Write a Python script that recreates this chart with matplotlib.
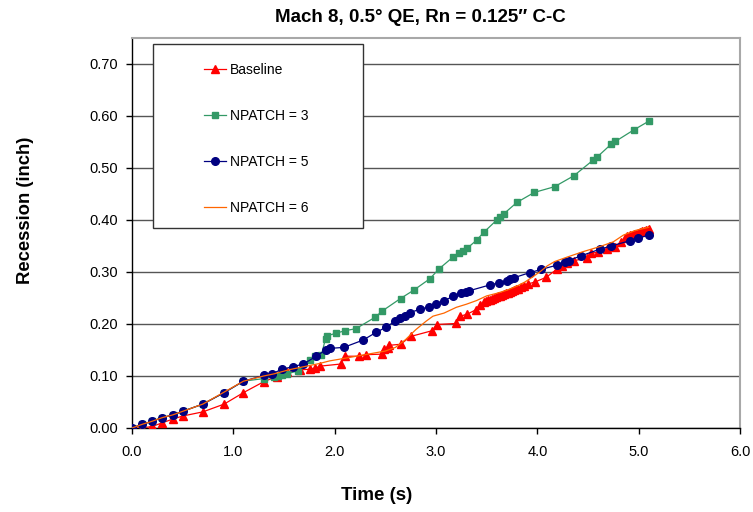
import matplotlib
matplotlib.use("Agg")
import matplotlib.pyplot as plt
from matplotlib.patches import Rectangle
from matplotlib.ticker import FormatStrFormatter, MultipleLocator

plt.rcParams['font.family'] = ['Liberation Sans', 'DejaVu Sans']

# Baseline (red triangles)
base_t = [0.0, 0.1, 0.2, 0.3, 0.4, 0.5, 0.7, 0.91, 1.1, 1.3, 1.43, 1.53, 1.66, 1.76,
          1.81, 1.86, 2.06, 2.10, 2.24, 2.31, 2.47, 2.49, 2.53, 2.54, 2.65, 2.75, 2.96,
          3.01, 3.20, 3.24, 3.31, 3.39, 3.43, 3.47, 3.49, 3.51, 3.53, 3.55, 3.57, 3.59,
          3.61, 3.63, 3.65, 3.67, 3.69, 3.71, 3.73, 3.75, 3.77, 3.79, 3.81, 3.84, 3.87,
          3.91, 3.98, 4.09, 4.19, 4.24, 4.29, 4.36, 4.49, 4.53, 4.60, 4.69, 4.77, 4.83,
          4.87, 4.89, 4.91, 4.93, 4.95, 4.97, 4.99, 5.01, 5.03, 5.05, 5.07, 5.09, 5.10]
base_r = [0.0, 0.0, 0.003, 0.010, 0.017, 0.023, 0.031, 0.046, 0.068, 0.089, 0.099, 0.108,
          0.112, 0.113, 0.115, 0.119, 0.123, 0.138, 0.138, 0.141, 0.142, 0.152, 0.153,
          0.159, 0.161, 0.176, 0.187, 0.199, 0.201, 0.215, 0.219, 0.227, 0.236, 0.242,
          0.244, 0.246, 0.247, 0.248, 0.250, 0.251, 0.253, 0.254, 0.256, 0.257, 0.259,
          0.260, 0.262, 0.263, 0.265, 0.267, 0.268, 0.271, 0.274, 0.277, 0.281, 0.290,
          0.305, 0.312, 0.317, 0.322, 0.326, 0.336, 0.338, 0.344, 0.349, 0.358, 0.366,
          0.369, 0.371, 0.372, 0.373, 0.374, 0.375, 0.376, 0.378, 0.379, 0.380, 0.381,
          0.382]

# NPATCH = 3 (green squares)
np3_t = [0.0, 0.1, 0.2, 0.3, 0.4, 0.5, 0.7, 0.91, 1.1, 1.30, 1.40, 1.44, 1.48, 1.53,
         1.64, 1.76, 1.81, 1.87, 1.91, 1.92, 2.01, 2.10, 2.21, 2.40, 2.47, 2.65, 2.78,
         2.94, 3.03, 3.17, 3.23, 3.27, 3.31, 3.40, 3.47, 3.60, 3.63, 3.67, 3.80, 3.97,
         4.17, 4.36, 4.55, 4.59, 4.73, 4.77, 4.95, 5.10]
np3_r = [0.0, 0.007, 0.013, 0.020, 0.025, 0.032, 0.046, 0.068, 0.090, 0.095, 0.098,
         0.100, 0.101, 0.104, 0.110, 0.131, 0.138, 0.141, 0.172, 0.177, 0.182, 0.187,
         0.191, 0.213, 0.225, 0.249, 0.265, 0.287, 0.306, 0.329, 0.336, 0.340, 0.346,
         0.361, 0.376, 0.400, 0.406, 0.412, 0.434, 0.453, 0.464, 0.485, 0.515, 0.521,
         0.546, 0.551, 0.573, 0.590]

# NPATCH = 5 (navy circles)
np5_t = [0.0, 0.1, 0.2, 0.3, 0.4, 0.5, 0.7, 0.91, 1.1, 1.30, 1.38, 1.48, 1.59, 1.69,
         1.82, 1.91, 1.95, 2.09, 2.28, 2.41, 2.51, 2.60, 2.64, 2.69, 2.74, 2.84, 2.93,
         3.00, 3.08, 3.17, 3.25, 3.30, 3.33, 3.53, 3.62, 3.70, 3.73, 3.77, 3.93, 4.04,
         4.19, 4.27, 4.31, 4.43, 4.62, 4.73, 4.91, 4.99, 5.10]
np5_r = [0.0, 0.007, 0.013, 0.020, 0.025, 0.032, 0.046, 0.068, 0.090, 0.101, 0.104,
         0.113, 0.118, 0.123, 0.138, 0.150, 0.153, 0.155, 0.169, 0.184, 0.194, 0.206,
         0.211, 0.216, 0.222, 0.228, 0.233, 0.238, 0.245, 0.253, 0.259, 0.262, 0.264,
         0.275, 0.279, 0.283, 0.286, 0.289, 0.299, 0.305, 0.313, 0.319, 0.322, 0.331,
         0.344, 0.350, 0.360, 0.365, 0.371]

# NPATCH = 6 (orange line)
np6_t = [0.0, 0.1, 0.2, 0.3, 0.4, 0.5, 0.7, 0.9, 1.1, 1.3, 1.40, 1.55, 1.70, 1.85,
         1.95, 2.10, 2.30, 2.50, 2.60, 2.70, 2.80, 2.90, 2.97, 3.08, 3.20, 3.30, 3.40,
         3.50, 3.60, 3.70, 3.80, 3.88, 3.95, 4.03, 4.10, 4.17, 4.30, 4.45, 4.62, 4.75,
         4.85, 4.97, 5.10]
np6_r = [0.0, 0.007, 0.013, 0.020, 0.025, 0.032, 0.046, 0.068, 0.090, 0.100, 0.104,
         0.112, 0.118, 0.124, 0.129, 0.134, 0.141, 0.148, 0.155, 0.170, 0.189, 0.205,
         0.215, 0.221, 0.232, 0.238, 0.245, 0.254, 0.259, 0.265, 0.273, 0.281, 0.290,
         0.301, 0.312, 0.320, 0.329, 0.339, 0.349, 0.358, 0.371, 0.380, 0.386]

fig = plt.figure(figsize=(7.53, 5.12), dpi=100)
ax = fig.add_axes([0.1753, 0.1641, 0.8074, 0.7617])

ax.plot(base_t, base_r, color='#FF0000', lw=0.9, marker='^', ms=5.5, mec='#FF0000',
        label='Baseline', zorder=3)
ax.plot(np3_t, np3_r, color='#339966', lw=0.9, marker='s', ms=5, mec='#339966',
        label='NPATCH = 3', zorder=3)
ax.plot(np5_t, np5_r, color='#000080', lw=0.9, marker='o', ms=5.5, mec='#000080',
        label='NPATCH = 5', zorder=3)
ax.plot(np6_t, np6_r, color='#FF6600', lw=0.9, label='NPATCH = 6', zorder=3)

ax.set_xlim(0, 6)
ax.set_ylim(0, 0.75)
ax.xaxis.set_major_locator(MultipleLocator(1.0))
ax.set_yticks([0.0, 0.1, 0.2, 0.3, 0.4, 0.5, 0.6, 0.7])
ax.xaxis.set_major_formatter(FormatStrFormatter('%.1f'))
ax.yaxis.set_major_formatter(FormatStrFormatter('%.2f'))
ax.tick_params(direction='out', length=4, width=1, labelsize=10.5, color='black')
ax.tick_params(axis='x', pad=8)
ax.tick_params(axis='y', pad=6)

ax.yaxis.grid(True, color='#555555', lw=1.0, zorder=1)
ax.set_axisbelow(True)
for s in ['left', 'bottom']:
    ax.spines[s].set_color('black')
    ax.spines[s].set_linewidth(1.0)
for s in ['top', 'right']:
    ax.spines[s].set_color('#A8A8A8')
    ax.spines[s].set_linewidth(1.5)

# legend box
ax.add_patch(Rectangle((0.0345, 0.513), 0.3455, 0.472, transform=ax.transAxes,
                       facecolor='white', edgecolor='#333333', lw=1.0, zorder=4))
leg = ax.legend(loc='upper left', bbox_to_anchor=(0.118, 0.937), frameon=False,
                borderpad=0, borderaxespad=0, handlelength=1.6, handletextpad=0.3,
                labelspacing=2.32, numpoints=1, fontsize=10)
leg.set_zorder(5)

fig.text(0.558, 0.965, 'Mach 8, 0.5° QE, Rn = 0.125″ C-C', ha='center', va='center',
         fontsize=13.5, fontweight='bold')
fig.text(0.5, 0.033, 'Time (s)', ha='center', va='center', fontsize=13.5, fontweight='bold')
fig.text(0.034, 0.59, 'Recession (inch)', ha='center', va='center', rotation=90,
         fontsize=13.3, fontweight='bold')

fig.savefig('out.png', dpi=100)
